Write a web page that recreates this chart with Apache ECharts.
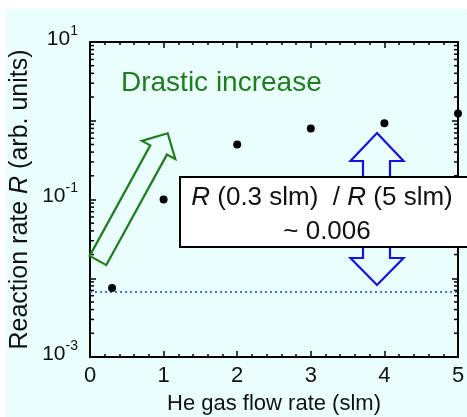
<!DOCTYPE html>
<html><head><meta charset="utf-8">
<script src="https://cdn.jsdelivr.net/npm/echarts@6/dist/echarts.min.js"></script>
<style>html,body{margin:0;padding:0;background:#fff}#c{width:467px;height:417px}</style>
</head><body><div id="c"></div>
<script>
// ---- data ----
const flowRates = [0.3, 1, 2, 3, 4, 5];
const reactionRates = [0.0075, 0.1, 0.5, 0.8, 0.93, 1.24];
const refLevel = 0.0067;            // dotted reference line (R at 0.3 slm)
const xRange = [0, 5];
const yRange = [0.001, 10];
const yLabelValues = [0.001, 0.1, 10];     // labeled decades
const yLabelExps = ['-3', '-1', '1'];      // their exponents as shown
const yMinorTicks = [0.002,0.003,0.004,0.005,0.006,0.007,0.008,0.009,
                     0.02,0.03,0.04,0.05,0.06,0.07,0.08,0.09,
                     0.2,0.3,0.4,0.5,0.6,0.7,0.8,0.9,
                     2,3,4,5,6,7,8,9];

const FF = '"Liberation Sans", Arial, Helvetica, sans-serif';
const chart = echarts.init(document.getElementById('c'), null, {renderer:'canvas'});

const axisLine = {show:true, onZero:false, lineStyle:{color:'#000', width:2}};
const tickStyle = {color:'#000', width:1.5};

function xAx(pos, labels){
  return {
    type:'value', min:xRange[0], max:xRange[1], interval:1, position:pos,
    axisLine: axisLine,
    axisTick:{show:true, inside:true, length:6, lineStyle:tickStyle},
    minorTick:{show:true, splitNumber:5, length:3, lineStyle:tickStyle},
    splitLine:{show:false}, minorSplitLine:{show:false},
    axisLabel: labels ? {show:true, fontSize:22, color:'#111', fontFamily:FF, margin:8} : {show:false},
    name: labels ? 'He gas flow rate (slm)' : '',
    nameLocation:'middle', nameGap:36, nameMoveOverlap:false,
    nameTextStyle:{fontSize:22, color:'#111', fontFamily:FF}
  };
}
function yAx(pos, labels){
  return {
    type:'log', logBase:10, min:yRange[0], max:yRange[1], position:pos,
    axisLine: axisLine,
    axisTick:{show:true, inside:true, length:6, lineStyle:tickStyle},
    minorTick:{show:false},
    splitLine:{show:false},
    axisLabel:{show:false},
    name: labels ? '{n|Reaction rate }{i|R}{n| (arb. units)}' : '',
    nameLocation:'middle', nameGap:57, nameRotate:90, nameMoveOverlap:false,
    nameTextStyle:{
      fontSize:25, color:'#111', fontFamily:FF,
      rich:{
        n:{fontSize:25, color:'#111', fontFamily:FF},
        i:{fontSize:25, color:'#111', fontFamily:FF, fontStyle:'italic'}
      }
    }
  };
}

const baseGraphics = [
  {type:'rect', silent:true, z:0, shape:{x:0, y:0, width:467, height:9}, style:{fill:'#fff'}},
  {type:'rect', silent:true, z:0, shape:{x:0, y:0, width:6, height:417}, style:{fill:'#fff'}},
  // green hollow arrow
  {type:'polygon', silent:true, z:100,
    shape:{points:[[89.7,255.9],[150.3,145.4],[141.9,140.9],[167.7,133.3],[175.3,159.1],[166.9,154.6],[106.3,265.1]]},
    style:{fill:'none', stroke:'#1e7d1e', lineWidth:2.2}},
  {type:'text', silent:true, z:100, style:{text:'Drastic increase', x:121, y:83, verticalAlign:'middle', align:'left',
    fill:'#1e7d1e', font:'28px ' + FF}},
  // blue double arrow
  {type:'polygon', silent:true, z:100,
    shape:{points:[[377,133],[403.5,161],[390,161],[390,258],[403.5,258],[377,285],[350.5,258],[363,258],[363,161],[350.5,161]]},
    style:{fill:'none', stroke:'#1414e0', lineWidth:2.2}},
  // ratio box
  {type:'rect', silent:true, z:110, shape:{x:180, y:177, width:300, height:70},
    style:{fill:'#fff', stroke:'#000', lineWidth:2}},
  {type:'text', silent:true, z:111, style:{
    text:'{i|R}{n| (0.3 slm)  / }{i|R}{n| (5 slm)}', x:322, y:198, align:'center', verticalAlign:'middle',
    rich:{n:{fontSize:26, fontFamily:FF, fill:'#111'}, i:{fontSize:26, fontFamily:FF, fontStyle:'italic', fill:'#111'}}}},
  {type:'text', silent:true, z:111, style:{text:'~ 0.006', x:327, y:232, align:'center', verticalAlign:'middle',
    fill:'#111', font:'26px ' + FF}}
];

const option = {
  animation:false,
  backgroundColor:'#eafefe',
  grid:{left:90, top:42, right:9, bottom:60, containLabel:false, outerBoundsMode:'none'},
  xAxis:[xAx('bottom', true), xAx('top', false)],
  yAxis:[yAx('left', true), yAx('right', false)],
  series:[
    {
      type:'custom', xAxisIndex:0, yAxisIndex:0, silent:true, z:3,
      data: yMinorTicks.map(v => [xRange[0], v]),
      renderItem: function(params, api){
        const pL = api.coord([xRange[0], api.value(1)]);
        const pR = api.coord([xRange[1], api.value(1)]);
        return {type:'group', children:[
          {type:'line', shape:{x1:pL[0], y1:pL[1], x2:pL[0]+4, y2:pL[1]}, style:{stroke:'#000', lineWidth:1.5}},
          {type:'line', shape:{x1:pR[0]-4, y1:pR[1], x2:pR[0], y2:pR[1]}, style:{stroke:'#000', lineWidth:1.5}}
        ]};
      }
    },
    {
      type:'line', xAxisIndex:0, yAxisIndex:0, silent:true, showSymbol:false, symbol:'none',
      data:[[xRange[0], refLevel],[xRange[1], refLevel]],
      lineStyle:{color:'#3a78d4', width:2, type:[2,3]}, z:2
    },
    {
      type:'scatter', xAxisIndex:0, yAxisIndex:0, silent:true,
      data: flowRates.map((x,i) => [x, reactionRates[i]]),
      symbol:'circle', symbolSize:8, itemStyle:{color:'#000', opacity:1}, z:4
    }
  ],
  graphic:{elements: baseGraphics}
};
chart.setOption(option);

// y tick labels (10^n) placed through the y axis scale
const xLeft = chart.convertToPixel({xAxisIndex:0}, xRange[0]);
const labelGraphics = yLabelValues.map((v, i) => ({
  type:'text', silent:true, z:50,
  style:{
    text:'{b|10}{s|' + yLabelExps[i] + '}',
    x: xLeft - 12, y: chart.convertToPixel({yAxisIndex:0}, v) - 3,
    align:'right', verticalAlign:'middle',
    rich:{
      b:{fontSize:21, lineHeight:30, fontFamily:FF, fill:'#111'},
      s:{fontSize:14, lineHeight:12, verticalAlign:'top', fontFamily:FF, fill:'#111'}
    }
  }
}));
chart.setOption({graphic:{elements: baseGraphics.concat(labelGraphics)}});
</script>
</body></html>
